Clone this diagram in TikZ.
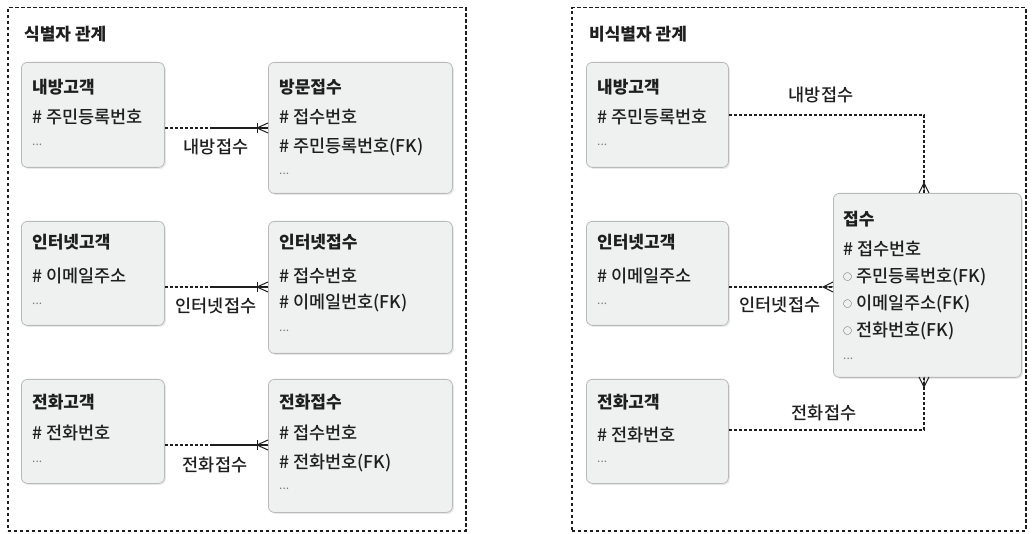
\documentclass[tikz,border=0pt]{standalone}
\usepackage{fontspec}
\setmainfont{Noto Sans CJK KR}
\newfontfamily\medfont{Noto Sans CJK KR Medium}
\usetikzlibrary{shadows}
\definecolor{boxfill}{HTML}{EFF0F0}
\definecolor{boxline}{HTML}{B8BABA}
\definecolor{inkc}{HTML}{1E1E1E}
\newcommand{\opt}{{\raisebox{2pt}{\fontsize{9}{10}\selectfont\color{darkgray}○}}}
\begin{document}
\begin{tikzpicture}[x=1pt,y=-1pt,
  frame/.style={draw=inkc,line width=1.5pt,dash pattern=on 3.5pt off 2.5pt},
  entity/.style={draw=boxline,fill=boxfill,rounded corners=6pt,line width=0.8pt,
    anchor=north west,inner sep=0pt,
    drop shadow={shadow xshift=1.5pt,shadow yshift=-1.5pt,opacity=0.18}},
  txt/.style={anchor=west,inner sep=0pt,text height=13pt,text depth=1pt,
    font=\medfont\fontsize{17.5}{20}\selectfont,text=inkc},
  ttl/.style={txt,font=\fontsize{17}{20}\selectfont\bfseries},
  head/.style={txt,font=\fontsize{17}{20}\selectfont\bfseries},
  lbl/.style={anchor=center,inner sep=0pt,font=\medfont\fontsize{17.5}{20}\selectfont,text=inkc},
  dots/.style={txt,text=gray,font=\fontsize{12}{14}\selectfont,yshift=3.5pt},
  rel/.style={draw=inkc,line width=1.1pt,dash pattern=on 3pt off 2pt},
  idrel/.style={draw=inkc,line width=1.4pt},
  foot/.style={draw=inkc,line width=1pt}
]
\useasboundingbox (0,0) rectangle (1036,534);
% frames
\node[frame,anchor=north west,minimum width=458pt,minimum height=523pt,inner sep=0pt] (fl) at (7,7) {};
\node[frame,anchor=north west,minimum width=454pt,minimum height=523pt,inner sep=0pt] (fr) at (571,7) {};
\node[head] (tl) at (24,35) {식별자 관계};
\node[head] (tr) at (589,35) {비식별자 관계};

% ---------- left panel ----------
\node[entity,minimum width=143pt,minimum height=105pt] (a1) at (21,62) {};
\node[ttl] (a1t) at (32,88) {내방고객};
\node[txt] (a1r1) at (32,118) {\# 주민등록번호};
\node[dots] (a1r2) at (32,143) {...};

\node[entity,minimum width=184pt,minimum height=131pt] (b1) at (268,62) {};
\node[ttl] (b1t) at (279,88) {방문접수};
\node[txt] (b1r1) at (279,118) {\# 접수번호};
\node[txt] (b1r2) at (279,147) {\# 주민등록번호(FK)};
\node[dots] (b1r3) at (279,172) {...};

\node[entity,minimum width=143pt,minimum height=104pt] (a2) at (21,221) {};
\node[ttl] (a2t) at (32,243) {인터넷고객};
\node[txt] (a2r1) at (32,277) {\# 이메일주소};
\node[dots] (a2r2) at (32,302) {...};

\node[entity,minimum width=184pt,minimum height=132pt] (b2) at (268,221) {};
\node[ttl] (b2t) at (279,243) {인터넷접수};
\node[txt] (b2r1) at (279,277) {\# 접수번호};
\node[txt] (b2r2) at (279,303) {\# 이메일번호(FK)};
\node[dots] (b2r3) at (279,329) {...};

\node[entity,minimum width=143pt,minimum height=104pt] (a3) at (21,379) {};
\node[ttl] (a3t) at (32,402) {전화고객};
\node[txt] (a3r1) at (32,433) {\# 전화번호};
\node[dots] (a3r2) at (32,460) {...};

\node[entity,minimum width=184pt,minimum height=133pt] (b3) at (268,379) {};
\node[ttl] (b3t) at (279,402) {전화접수};
\node[txt] (b3r1) at (279,433) {\# 접수번호};
\node[txt] (b3r2) at (279,462) {\# 전화번호(FK)};
\node[dots] (b3r3) at (279,487) {...};

% identifying relationships
\foreach \s/\t/\y in {a1/b1/128,a2/b2/287,a3/b3/445}{
  \coordinate (\s m) at (210,\y);
  \draw[rel] (\s.east |- 0,\y) -- (\s m);
  \draw[idrel] (\s m) -- (\t.west |- 0,\y);
  \draw[foot] (257,\y-5) -- (257,\y+5);
  \draw[foot] (\t.west |- 0,\y-5) -- (257,\y) -- (\t.west |- 0,\y+5);
}
\node[lbl] (l1) at (216,147) {내방접수};
\node[lbl] (l2) at (216,306) {인터넷접수};
\node[lbl] (l3) at (215,465) {전화접수};

% ---------- right panel ----------
\node[entity,minimum width=142pt,minimum height=105pt] (c1) at (586,62) {};
\node[ttl] (c1t) at (597,88) {내방고객};
\node[txt] (c1r1) at (597,118) {\# 주민등록번호};
\node[dots] (c1r2) at (597,143) {...};

\node[entity,minimum width=142pt,minimum height=104pt] (c2) at (586,221) {};
\node[ttl] (c2t) at (597,243) {인터넷고객};
\node[txt] (c2r1) at (597,277) {\# 이메일주소};
\node[dots] (c2r2) at (597,302) {...};

\node[entity,minimum width=142pt,minimum height=104pt] (c3) at (586,379) {};
\node[ttl] (c3t) at (597,403) {전화고객};
\node[txt] (c3r1) at (597,435) {\# 전화번호};
\node[dots] (c3r2) at (597,460) {...};

\node[entity,minimum width=188pt,minimum height=184pt] (d) at (833,193) {};
\node[ttl] (dt) at (843,220) {접수};
\node[txt] (dr1) at (843,250) {\# 접수번호};
\node[txt] (dr2) at (843,277) {\opt{} 주민등록번호(FK)};
\node[txt] (dr3) at (843,304) {\opt{} 이메일주소(FK)};
\node[txt] (dr4) at (843,331) {\opt{} 전화번호(FK)};
\node[dots] (dr5) at (843,357) {...};

% non-identifying relationships
\coordinate (k1) at (924,115);
\coordinate (k3) at (924,430);
\draw[rel] (c1.east |- k1) -- (k1) -- (d.north -| k1);
\draw[rel] (c2.east |- 0,287) -- (d.west |- 0,287);
\draw[rel] (c3.east |- k3) -- (k3) -- (d.south -| k3);
% crow's feet
\draw[foot] (919,193) -- (924,183) -- (929,193) (924,183) -- (924,193);
\draw[foot] (833,282) -- (823,287) -- (833,292) (823,287) -- (833,287);
\draw[foot] (919,377) -- (924,387) -- (929,377) (924,387) -- (924,377);

\node[lbl] (m1) at (821,95) {내방접수};
\node[lbl] (m2) at (780,305) {인터넷접수};
\node[lbl] (m3) at (824,413) {전화접수};
\end{tikzpicture}
\end{document}
